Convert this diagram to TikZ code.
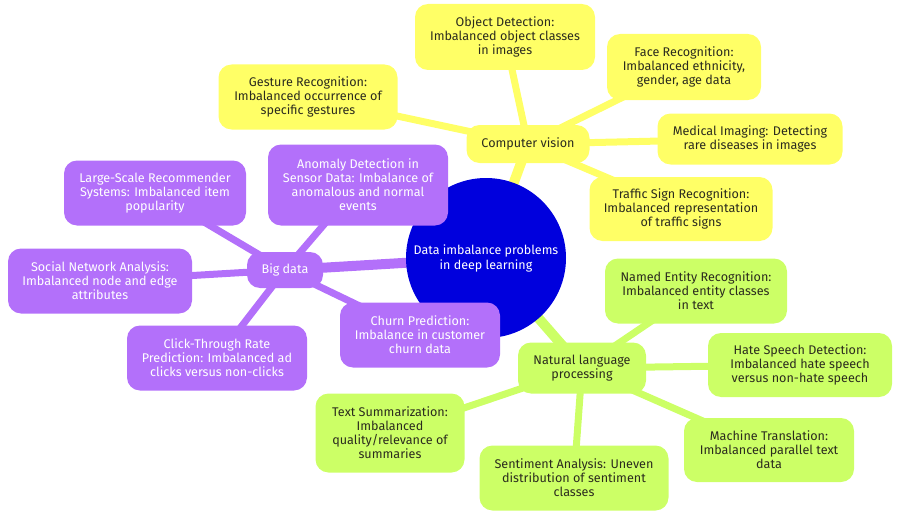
\documentclass[tikz,border=0pt]{standalone}
\usepackage{fontspec}
\setmainfont{Fira Sans}
\usetikzlibrary{backgrounds}
\definecolor{cvy}{HTML}{FFFF66}
\definecolor{bdp}{HTML}{B370FA}
\definecolor{nlg}{HTML}{CCFF66}
\definecolor{cblue}{HTML}{0000DD}
\definecolor{dtxt}{HTML}{2B2B1E}
\tikzset{
  x=1pt,y=-1pt,
  every node/.style={font=\fontsize{12.6}{14}\selectfont, align=center, inner sep=0pt},
  ybox/.style={fill=cvy, text=dtxt, rounded corners=13pt},
  pbox/.style={fill=bdp, text=white, rounded corners=13pt},
  gbox/.style={fill=nlg, text=dtxt, rounded corners=13pt},
  yl/.style={draw=cvy, line width=7pt},
  pl/.style={draw=bdp, line width=7pt},
  gl/.style={draw=nlg, line width=7pt},
  ylt/.style={draw=cvy, line width=10pt},
  plt/.style={draw=bdp, line width=10pt},
  glt/.style={draw=nlg, line width=10pt},
}
\begin{document}
\begin{tikzpicture}
\useasboundingbox (0,0) rectangle (900,519);
% centre
\node[circle, fill=cblue, text=white, minimum size=160pt, font=\fontsize{12.5}{15}\selectfont] (root) at (486,258) {Data imbalance problems\\in deep learning};
% categories
\node[ybox, minimum width=123pt, minimum height=38pt] (cv) at (528,144) {Computer vision};
\node[pbox, minimum width=76pt, minimum height=36pt] (bd) at (285,270) {Big data};
\node[gbox, minimum width=128pt, minimum height=51pt] (nlp) at (582,368) {Natural language\\processing};
% computer vision leaves
\node[ybox, minimum width=180pt, minimum height=66pt] (od) at (505,37) {Object Detection:\\Imbalanced object classes\\in images};
\node[ybox, minimum width=179pt, minimum height=65pt] (gr) at (308,97) {Gesture Recognition:\\Imbalanced occurrence of\\specific gestures};
\node[ybox, minimum width=154pt, minimum height=66pt] (fr) at (684,67) {Face Recognition:\\Imbalanced ethnicity,\\gender, age data};
\node[ybox, minimum width=185pt, minimum height=51pt] (mi) at (750,139) {Medical Imaging: Detecting\\rare diseases in images};
\node[ybox, minimum width=183pt, minimum height=64pt] (ts) at (681,209) {Traffic Sign Recognition:\\Imbalanced representation\\of traffic signs};
% big data leaves
\node[pbox, minimum width=182pt, minimum height=65pt] (rs) at (155,193) {Large-Scale Recommender\\Systems: Imbalanced item\\popularity};
\node[pbox, minimum width=180pt, minimum height=81pt] (ad) at (358,185) {Anomaly Detection in\\Sensor Data: Imbalance of\\anomalous and normal\\events};
\node[pbox, minimum width=184pt, minimum height=65pt] (sn) at (100,281) {Social Network Analysis:\\Imbalanced node and edge\\attributes};
\node[pbox, minimum width=180pt, minimum height=65pt] (ct) at (217,358) {Click-Through Rate\\Prediction: Imbalanced ad\\clicks versus non-clicks};
\node[pbox, minimum width=160pt, minimum height=65pt] (cp) at (420,335) {Churn Prediction:\\Imbalance in customer\\churn data};
% nlp leaves
\node[gbox, minimum width=182pt, minimum height=65pt] (ne) at (696,291) {Named Entity Recognition:\\Imbalanced entity classes\\in text};
\node[gbox, minimum width=184pt, minimum height=64pt] (hs) at (800,365) {Hate Speech Detection:\\Imbalanced hate speech\\versus non-hate speech};
\node[gbox, minimum width=170pt, minimum height=64pt] (mt) at (769,450) {Machine Translation:\\Imbalanced parallel text\\data};
\node[gbox, minimum width=189pt, minimum height=65pt] (sa) at (574,478) {Sentiment Analysis: Uneven\\distribution of sentiment\\classes};
\node[gbox, minimum width=149pt, minimum height=79pt] (tsu) at (390,433) {Text Summarization:\\Imbalanced\\quality/relevance of\\summaries};
\begin{scope}[on background layer]
\draw[ylt] (root.center) -- (cv.center);
\draw[plt] (root.center) -- (bd.center);
\draw[glt] (root.center) -- (nlp.center);
\foreach \n in {od,gr,fr,mi,ts} \draw[yl] (cv.center) -- (\n.center);
\foreach \n in {rs,ad,sn,ct,cp} \draw[pl] (bd.center) -- (\n.center);
\foreach \n in {ne,hs,mt,sa,tsu} \draw[gl] (nlp.center) -- (\n.center);
\end{scope}
\end{tikzpicture}
\end{document}
